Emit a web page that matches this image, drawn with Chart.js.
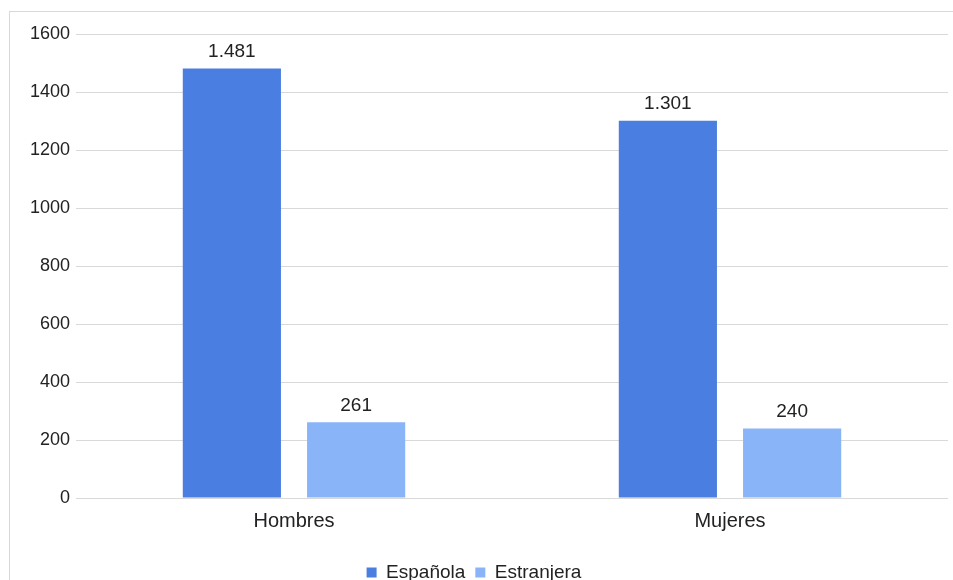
<!DOCTYPE html>
<html>
<head>
<meta charset="utf-8">
<script src="https://cdn.jsdelivr.net/npm/chart.js@4/dist/chart.umd.min.js"></script>
<style>
  html, body { margin: 0; padding: 0; background: #fff; overflow: hidden; }
  #frame { position: absolute; left: 9px; top: 11px; width: 960px; height: 600px;
           border-left: 1px solid #d9d9d9; border-top: 1px solid #d9d9d9; }
  #wrap { position: absolute; left: 0; top: 0; width: 953px; height: 592px; }
</style>
</head>
<body>
<div id="frame"></div>
<div id="wrap"><canvas id="chart"></canvas></div>
<script>
// Chart values
const categories = ['Hombres', 'Mujeres'];
const seriesNames = ['Española', 'Estranjera'];
const espanola = [1481, 1301];
const estranjera = [261, 240];
const yTicks = [0, 200, 400, 600, 800, 1000, 1200, 1400, 1600];

const FONT = "'Liberation Sans', Arial, sans-serif";

// draws the value above each bar, es-ES style thousands separator
const valueLabels = {
  id: 'valueLabels',
  afterDatasetsDraw(chart) {
    const ctx = chart.ctx;
    ctx.save();
    ctx.font = '19px ' + FONT;
    ctx.fillStyle = '#222';
    ctx.textAlign = 'center';
    ctx.textBaseline = 'bottom';
    chart.data.datasets.forEach((ds, i) => {
      chart.getDatasetMeta(i).data.forEach((bar, j) => {
        const txt = ds.data[j].toLocaleString('es-ES', { useGrouping: 'always' });
        ctx.fillText(txt, bar.x, bar.y - 7);
      });
    });
    ctx.restore();
  }
};

new Chart(document.getElementById('chart'), {
  type: 'bar',
  data: {
    labels: categories,
    datasets: [
      { label: seriesNames[0], data: espanola, backgroundColor: '#4a7ee0' },
      { label: seriesNames[1], data: estranjera, backgroundColor: '#8ab4f8' }
    ]
  },
  options: {
    responsive: true,
    maintainAspectRatio: false,
    animation: false,
    categoryPercentage: 0.57,
    barPercentage: 0.79,
    layout: { padding: { left: 0, right: 5, top: 34, bottom: 0 } },
    scales: {
      x: {
        grid: { display: false },
        border: { display: false },
        afterFit(axis) { axis.height = 55; },
        ticks: { color: '#222', font: { family: FONT, size: 20 }, padding: 3 }
      },
      y: {
        min: 0, max: 1600,
        afterBuildTicks(axis) { axis.ticks = yTicks.map(v => ({ value: v })); },
        afterFit(axis) { axis.width = 76; },
        grid: { color: '#d9d9d9', lineWidth: 1, drawTicks: false },
        border: { display: false },
        ticks: { color: '#222', font: { family: FONT, size: 18 }, padding: 6,
                 callback: v => String(v) }
      }
    },
    plugins: {
      legend: {
        position: 'bottom',
        labels: {
          color: '#222', font: { family: FONT, size: 19 },
          usePointStyle: true, pointStyle: 'rect', boxWidth: 10, boxHeight: 10, padding: 10
        }
      },
      tooltip: { enabled: false }
    }
  },
  plugins: [valueLabels]
});
</script>
</body>
</html>
